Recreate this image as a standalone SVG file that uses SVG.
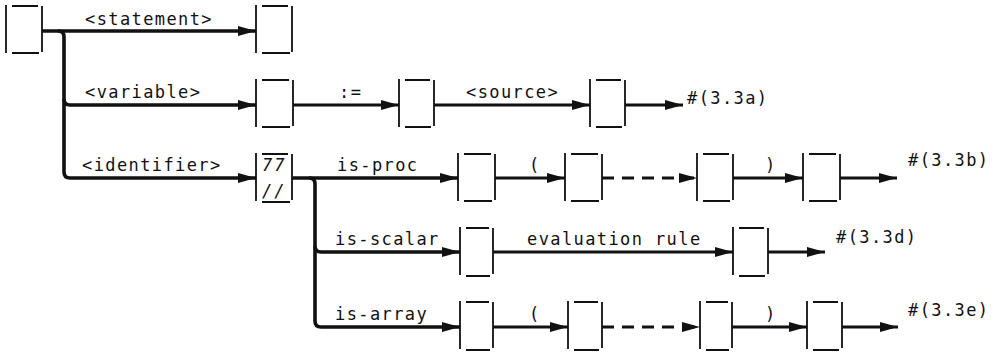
<svg xmlns="http://www.w3.org/2000/svg" width="995" height="355" viewBox="0 0 995 355">
<style>
.bx{fill:none;stroke:#111;stroke-width:1.8}
.cn{fill:none;stroke:#111;stroke-width:3.2}
.th{fill:none;stroke:#111;stroke-width:3.6}
.ds{fill:none;stroke:#111;stroke-width:3.2;stroke-dasharray:12 8}
text{font-family:"DejaVu Sans Mono","Liberation Mono",monospace;font-size:17px;letter-spacing:1.4px;fill:#111}
.it{font-style:italic;letter-spacing:2px}
</style>
<defs>
<marker id="ah" viewBox="0 0 18 11" markerWidth="18" markerHeight="11" refX="18" refY="5.5" orient="auto" markerUnits="userSpaceOnUse">
<path d="M0,0.5 L18,5.5 L0,10.5 Z" fill="#111"/>
</marker>
</defs>
<rect width="995" height="355" fill="#fff"/>

<g id="nA"><path class="bx" d="M6,5V53M42,6V52M12,6H38M12,53H39"/></g>
<g id="nB"><path class="bx" d="M256,5V53M292,6V52M262,6H288M262,53H290"/></g>
<g id="nC"><path class="bx" d="M256,79V127M293,80V126M262,80H289M262,127H290"/></g>
<g id="nD"><path class="bx" d="M399,79V127M434,80V126M405,80H430M405,127H431"/></g>
<g id="nE"><path class="bx" d="M590,79V127M625,80V126M596,80H621M596,127H622"/></g>
<g id="nF"><path class="bx" d="M256,153V201M292,154V200M262,154H288M262,202H290"/>
<text class="it" x="262" y="171">77</text><text class="it" x="262" y="197">//</text></g>
<g id="nG"><path class="bx" d="M458,153V201M495,154V200M464,154H491M464,201H492"/></g>
<g id="nH"><path class="bx" d="M565,153V201M602,154V200M571,154H598M571,201H599"/></g>
<g id="nI"><path class="bx" d="M697,153V201M733,154V200M703,154H729M703,201H730"/></g>
<g id="nJ"><path class="bx" d="M803,153V201M840,154V200M809,154H836M809,201H837"/></g>
<g id="nK"><path class="bx" d="M460,227V275M493,228V274M466,228H489M466,276H490"/></g>
<g id="nL"><path class="bx" d="M733,227V275M768,228V274M739,228H764M739,276H765"/></g>
<g id="nM"><path class="bx" d="M460,301V349M493,302V348M466,302H489M466,350H490"/></g>
<g id="nN"><path class="bx" d="M568,301V349M602,302V348M574,302H598M574,350H599"/></g>
<g id="nO"><path class="bx" d="M700,301V349M732,302V348M706,302H728M706,350H729"/></g>
<g id="nP"><path class="bx" d="M807,301V349M842,302V348M813,302H838M813,350H839"/></g>

<g id="connectors">
<path class="th" d="M42,31H256" marker-end="url(#ah)"/>
<path class="th" d="M58,31Q64,31 64,37V172Q64,178 70,178H256" marker-end="url(#ah)"/>
<path class="th" d="M64,99Q64,105 70,105H256" marker-end="url(#ah)"/>
<path class="cn" d="M293,105H399" marker-end="url(#ah)"/>
<path class="cn" d="M434,105H590" marker-end="url(#ah)"/>
<path class="cn" d="M625,105H683" marker-end="url(#ah)"/>
<path class="th" d="M292,178H458" marker-end="url(#ah)"/>
<path class="th" d="M309,178Q315,178 315,184V321Q315,327 321,327H460" marker-end="url(#ah)"/>
<path class="th" d="M315,246Q315,252 321,252H460" marker-end="url(#ah)"/>
<path class="cn" d="M495,178H565" marker-end="url(#ah)"/>
<path class="ds" d="M602,178H697" marker-end="url(#ah)"/>
<path class="cn" d="M733,178H803" marker-end="url(#ah)"/>
<path class="cn" d="M840,178H897" marker-end="url(#ah)"/>
<path class="cn" d="M493,252H733" marker-end="url(#ah)"/>
<path class="cn" d="M768,252H825" marker-end="url(#ah)"/>
<path class="cn" d="M493,327H568" marker-end="url(#ah)"/>
<path class="ds" d="M602,327H700" marker-end="url(#ah)"/>
<path class="cn" d="M732,327H807" marker-end="url(#ah)"/>
<path class="cn" d="M842,327H898" marker-end="url(#ah)"/>
</g>

<g id="labels">
<text x="85" y="25">&lt;statement&gt;</text>
<text x="85" y="98">&lt;variable&gt;</text>
<text x="82" y="171">&lt;identifier&gt;</text>
<text x="339" y="98">:=</text>
<text x="466" y="98">&lt;source&gt;</text>
<text x="687" y="104">#(3.3a)</text>
<text x="337" y="171">is-proc</text>
<text x="529" y="171">(</text>
<text x="765" y="171">)</text>
<text x="908" y="166">#(3.3b)</text>
<text x="335" y="245">is-scalar</text>
<text x="527" y="245">evaluation rule</text>
<text x="836" y="243">#(3.3d)</text>
<text x="335" y="320">is-array</text>
<text x="529" y="320">(</text>
<text x="765" y="320">)</text>
<text x="908" y="316">#(3.3e)</text>
</g>
</svg>
